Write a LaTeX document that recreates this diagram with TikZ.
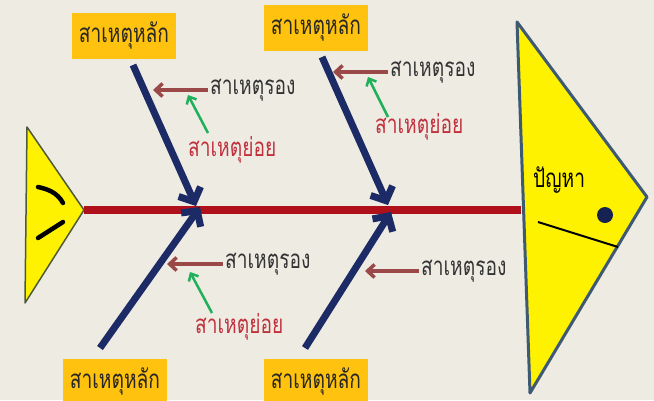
\documentclass[tikz,border=0pt]{standalone}
\usepackage{fontspec}
\newfontfamily\thaifont[Script=Thai]{Loma}
\usetikzlibrary{arrows.meta}
\definecolor{paper}{HTML}{EEEBE3}
\definecolor{boxorange}{HTML}{FFC20E}
\definecolor{bonenavy}{HTML}{1C2A66}
\definecolor{spinered}{HTML}{B0101A}
\definecolor{subbrown}{HTML}{9A4848}
\definecolor{tinygreen}{HTML}{20B05A}
\definecolor{tinyred}{HTML}{C0303C}
\definecolor{headedge}{HTML}{3E5A72}
\definecolor{tailedge}{HTML}{4E5A3A}
\def\dbone{\draw[mainbone]}
\def\dsub{\draw[subbone]}
\def\dtiny{\draw[tinybone]}
\newcommand\thaitxt[1]{\scalebox{0.74}[1]{#1}}

\begin{document}
\begin{tikzpicture}[x=1bp,y=-1bp,
    font=\thaifont\fontsize{26}{28}\selectfont,
    mainbox/.style={fill=boxorange,text=black!85,minimum width=104bp,minimum height=46bp,inner sep=2bp},
    mainbone/.style={bonenavy,line width=7bp,-{Straight Barb[length=11bp,width=24bp]}},
    subbone/.style={subbrown,line width=3.5bp,-{Straight Barb[length=7bp,width=13bp]}},
    tinybone/.style={tinygreen,line width=2.5bp,-{Straight Barb[length=6bp,width=11bp]}},
    subtext/.style={anchor=west,text=black!80,inner sep=2bp},
    tinytext/.style={anchor=west,text=tinyred,inner sep=2bp}]
  \useasboundingbox[fill=paper] (0,0) rectangle (654,400);
  % head and tail
  \draw[headedge,line width=3bp,fill=yellow,line join=round] (517,22) -- (647,197) -- (530,393) -- cycle;
  \draw[tailedge,line width=1.5bp,fill=yellow,line join=round] (27,127) -- (84,210) -- (25,303) -- cycle;
  \draw[black,line width=4.5bp,line cap=round] (38,187) .. controls (47,189) and (57,192) .. (63,203);
  \draw[black,line width=4.5bp,line cap=round] (38,238) -- (63,222);
  \fill[bonenavy!80!black] (605,215) circle (8);
  \draw[black,line width=2bp] (538,222) -- (618,247);
  \node[anchor=west,inner sep=0pt] (problem) at (533,180) {\thaitxt{ปัญหา}};
  % spine
  \coordinate (tailtip) at (84,210);
  \coordinate (headleft) at (521,210);
  \draw[spinered,line width=8bp] (tailtip) -- (headleft);
  % main causes
  \node[mainbox] (main1) at (124,36) {\thaitxt{สาเหตุหลัก}};
  \node[mainbox] (main2) at (316,28) {\thaitxt{สาเหตุหลัก}};
  \node[mainbox] (main3) at (115,382) {\thaitxt{สาเหตุหลัก}};
  \node[mainbox] (main4) at (316,382) {\thaitxt{สาเหตุหลัก}};
  \coordinate (b1s) at (133,65);  \coordinate (b1e) at (196,206);
  \coordinate (b2s) at (322,57);  \coordinate (b2e) at (388,205);
  \coordinate (b3s) at (100,348); \coordinate (b3e) at (200,207);
  \coordinate (b4s) at (305,348); \coordinate (b4e) at (391,212);
  \dbone (b1s) -- (b1e);
  \dbone (b2s) -- (b2e);
  \dbone (b3s) -- (b3e);
  \dbone (b4s) -- (b4e);
  % secondary causes
  \node[subtext] (sub1) at (208,90) {\thaitxt{สาเหตุรอง}};
  \node[subtext] (sub2) at (388,72) {\thaitxt{สาเหตุรอง}};
  \node[subtext] (sub3) at (223,264) {\thaitxt{สาเหตุรอง}};
  \node[subtext] (sub4) at (419,271) {\thaitxt{สาเหตุรอง}};
  \coordinate (s1e) at (153,90);  \coordinate (s2e) at (333,72);
  \coordinate (s3e) at (167,264); \coordinate (s4e) at (365,271);
  \dsub (sub1.west) -- (s1e);
  \dsub (sub2.west) -- (s2e);
  \dsub (sub3.west) -- (s3e);
  \dsub (sub4.west) -- (s4e);
  % minor causes
  \node[tinytext] (tiny1) at (186,150) {\thaitxt{สาเหตุย่อย}};
  \node[tinytext] (tiny2) at (373,127) {\thaitxt{สาเหตุย่อย}};
  \node[tinytext] (tiny3) at (193,327) {\thaitxt{สาเหตุย่อย}};
  \coordinate (t1s) at (208,133); \coordinate (t1e) at (188,95);
  \coordinate (t2s) at (388,117); \coordinate (t2e) at (368,77);
  \coordinate (t3s) at (212,313); \coordinate (t3e) at (190,272);
  \dtiny (t1s) -- (t1e);
  \dtiny (t2s) -- (t2e);
  \dtiny (t3s) -- (t3e);
\end{tikzpicture}
\end{document}
